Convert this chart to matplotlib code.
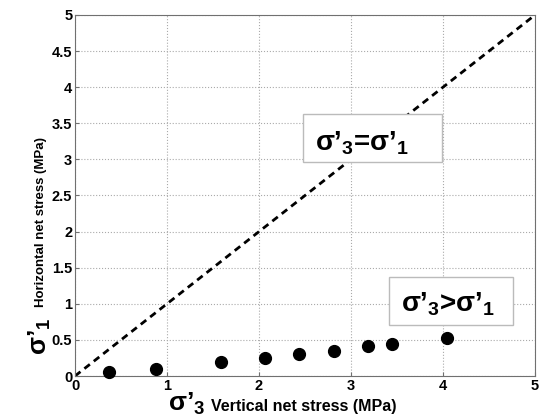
import matplotlib
matplotlib.use('Agg')
import matplotlib.pyplot as plt
from matplotlib.patches import Rectangle
import numpy as np

plt.rcParams['font.family'] = ['Liberation Sans', 'DejaVu Sans']
plt.rcParams['font.weight'] = 'bold'
plt.rcParams['mathtext.fontset'] = 'custom'
plt.rcParams['mathtext.rm'] = 'Liberation Sans:bold'
plt.rcParams['mathtext.default'] = 'rm'

# measured points
sig3 = [0.37, 0.88, 1.59, 2.07, 2.43, 2.82, 3.18, 3.45, 4.04]
sig1 = [0.05, 0.10, 0.20, 0.25, 0.30, 0.35, 0.42, 0.45, 0.53]
line_x = [0, 5]
line_y = [0, 5]
xticks = [0, 1, 2, 3, 4, 5]
yticks = [0, 0.5, 1, 1.5, 2, 2.5, 3, 3.5, 4, 4.5, 5]
ytick_labels = ['0', '0.5', '1', '1.5', '2', '2.5', '3', '3.5', '4', '4.5', '5']

W, H = 543, 419
fig = plt.figure(figsize=(W / 100, H / 100), dpi=100)
ax = fig.add_axes([75 / W, 1 - 376 / H, 460 / W, 361 / H])

ax.plot(line_x, line_y, '--', color='black', lw=2, dashes=(2.5, 1.8), zorder=2)
ax.plot(sig3, sig1, 'o', color='black', ms=8.5, clip_on=False, zorder=3)

ax.set_xlim(0, 5)
ax.set_ylim(0, 5)
ax.set_xticks(xticks)
ax.set_yticks(yticks)
ax.set_yticklabels(ytick_labels)
ax.grid(True, linestyle=':', color='#aaaaaa', lw=0.8)
for s in ax.spines.values():
    s.set_color('#707070')
ax.tick_params(direction='in', length=3, color='#707070', labelsize=10.5, pad=2)
for lab in ax.get_xticklabels() + ax.get_yticklabels():
    lab.set_fontweight('bold')

# annotation boxes
ax.add_patch(Rectangle((2.48, 2.96), 1.51, 0.67, facecolor='white', edgecolor='#bbbbbb', lw=1, zorder=4))
ax.text(3.12, 3.23, "σ’$_3$=σ’$_1$", fontsize=20, fontweight='bold', ha='center', va='center', zorder=5)
ax.add_patch(Rectangle((3.41, 0.71), 1.35, 0.66, facecolor='white', edgecolor='#bbbbbb', lw=1, zorder=4))
ax.text(4.05, 0.99, "σ’$_3$>σ’$_1$", fontsize=20, fontweight='bold', ha='center', va='center', zorder=5)

# axis labels
fig.text(187 / W, 1 - 404 / H, "σ’$_3$", fontsize=19, fontweight='bold', ha='center', va='center')
fig.text(304 / W, 1 - 406 / H, "Vertical net stress (MPa)", fontsize=11.5, fontweight='bold',
         ha='center', va='center')
fig.text(40 / W, 1 - 336 / H, "σ’$_1$", fontsize=19, fontweight='bold', ha='center', va='center',
         rotation=90)
fig.text(41 / W, 1 - 222 / H, "Horizontal net stress (MPa)", fontsize=9.5, fontweight='bold',
         ha='center', va='center', rotation=90)

fig.savefig('out.png', dpi=100)
